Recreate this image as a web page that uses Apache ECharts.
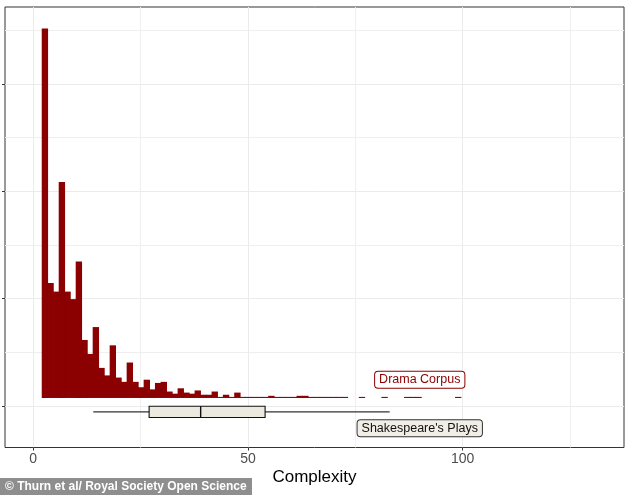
<!DOCTYPE html>
<html><head><meta charset="utf-8">
<script src="https://cdn.jsdelivr.net/npm/echarts@6/dist/echarts.min.js"></script>
<style>html,body{margin:0;padding:0;background:#fff}#c{width:634px;height:495px}</style>
</head><body><div id="c"></div>
<script>
// ---- data ----
const binStart = 2.0;
const binWidth = 1.318;
const dramaCounts = [
  344, 107, 99, 201, 99, 92, 127, 54, 41, 66,
  28, 21, 49, 19, 15, 33, 15, 10, 17, 8,
  14, 15, 6, 4, 9, 5, 4, 7, 3, 3,
  6, 1, 3, 1, 5, 1, 1, 1, 1, 1,
  2, 1, 1, 1, 1, 2, 2, 1, 1, 1,
  1, 1, 1, 1, 0, 0, 1, 0, 0, 0,
  1, 0, 0, 0, 1, 1, 1, 0, 0, 0,
  0, 0, 0, 1
];
// Shakespeare's plays boxplot: [lower whisker, Q1, median, Q3, upper whisker]
const shakespeareBox = [14.0, 27.0, 39.0, 54.0, 83.0];
const xTicks = [0, 50, 100];
const xMinorTicks = [25, 75, 125];
const yTicks = [0, 100, 200, 300];
const yMinorTicks = [50, 150, 250, 350];
const labelNames = ['Drama Corpus', "Shakespeare's Plays"];

// ---- layout constants ----
const histBase = 7.6;
const boxCenter = -5.3, boxHalf = 5.25;
const labelPos = [[90, 24.65], [90, -20.5]];
const FONT = '"Liberation Sans", Arial, sans-serif';

const chart = echarts.init(document.getElementById('c'), null, {renderer: 'canvas'});

const histData = dramaCounts.map((c, i) => [binStart + i * binWidth, binStart + (i + 1) * binWidth, c]);

const option = {
  animation: false,
  backgroundColor: '#fff',
  grid: {left: 5, right: 10, top: 7, bottom: 47.5, show: true, borderColor: '#333', borderWidth: 1, backgroundColor: '#fff'},
  xAxis: [{
    type: 'value', min: -6.55, max: 137.55, position: 'bottom',
    axisLine: {show: false, onZero: false},
    axisTick: {show: true, length: 3, customValues: xTicks, lineStyle: {color: '#333', width: 1}},
    axisLabel: {show: true, customValues: xTicks, color: '#4D4D4D', fontSize: 14, fontFamily: FONT, margin: 5},
    splitLine: {show: true, lineStyle: {color: '#EBEBEB', width: 1}},
    name: 'Complexity', nameLocation: 'middle', nameGap: 21, nameMoveOverlap: false,
    nameTextStyle: {color: '#000', fontSize: 17, fontFamily: FONT}
  }, {
    type: 'value', min: -6.55, max: 137.55, position: 'bottom',
    axisLine: {show: false, onZero: false},
    axisTick: {show: false, customValues: xMinorTicks},
    axisLabel: {show: false},
    splitLine: {show: true, lineStyle: {color: '#EFEFEF', width: 1}}
  }],
  yAxis: [{
    type: 'value', min: -38.5, max: 371.5, position: 'left',
    axisLine: {show: false, onZero: false},
    axisTick: {show: true, length: 3, customValues: yTicks, lineStyle: {color: '#333', width: 1}},
    axisLabel: {show: false},
    splitLine: {show: true, lineStyle: {color: '#EBEBEB', width: 1}}
  }, {
    type: 'value', min: -38.5, max: 371.5, position: 'left',
    axisLine: {show: false, onZero: false},
    axisTick: {show: false, customValues: yMinorTicks},
    axisLabel: {show: false},
    splitLine: {show: true, lineStyle: {color: '#EFEFEF', width: 1}}
  }],
  series: [{
    type: 'custom',
    xAxisIndex: 0, yAxisIndex: 0,
    data: histData,
    encode: {x: [0, 1], y: 2},
    renderItem: function (params, api) {
      const x0 = api.value(0), x1 = api.value(1), c = api.value(2);
      if (!c) return {type: 'group', children: []};
      const p0 = api.coord([x0, histBase]);
      const p1 = api.coord([x1, histBase + c]);
      return {
        type: 'rect',
        shape: {x: p0[0], y: p1[1], width: p1[0] - p0[0] + 0.7, height: p0[1] - p1[1]},
        style: {fill: '#8B0000'}
      };
    },
    z: 3
  }, {
    type: 'custom',
    xAxisIndex: 0, yAxisIndex: 0,
    data: [shakespeareBox],
    encode: {x: [0, 1, 2, 3, 4]},
    renderItem: function (params, api) {
      const lo = api.value(0), q1 = api.value(1), med = api.value(2), q3 = api.value(3), hi = api.value(4);
      const pLo = api.coord([lo, boxCenter]);
      const pHi = api.coord([hi, boxCenter]);
      const pQ1t = api.coord([q1, boxCenter + boxHalf]);
      const pQ3b = api.coord([q3, boxCenter - boxHalf]);
      const pMt = api.coord([med, boxCenter + boxHalf]);
      const pMb = api.coord([med, boxCenter - boxHalf]);
      const ls = {stroke: '#333', lineWidth: 1.1};
      return {
        type: 'group',
        children: [
          {type: 'line', shape: {x1: pLo[0], y1: pLo[1], x2: pHi[0], y2: pHi[1]}, style: ls},
          {type: 'rect', shape: {x: pQ1t[0], y: pQ1t[1], width: pQ3b[0] - pQ1t[0], height: pQ3b[1] - pQ1t[1]},
           style: {fill: '#ECE9DF', stroke: '#111', lineWidth: 1.1}},
          {type: 'line', shape: {x1: pMt[0], y1: pMt[1], x2: pMb[0], y2: pMb[1]}, style: {stroke: '#111', lineWidth: 1.4}}
        ]
      };
    },
    z: 4
  }, {
    type: 'custom',
    xAxisIndex: 0, yAxisIndex: 0,
    data: labelPos.map((p, i) => [p[0], p[1], i]),
    encode: {x: 0, y: 1},
    renderItem: function (params, api) {
      const i = api.value(2);
      const p = api.coord([api.value(0), api.value(1)]);
      const isDrama = i === 0;
      return {
        type: 'text',
        x: p[0], y: p[1],
        style: {
          text: labelNames[i],
          align: 'center', verticalAlign: 'middle',
          fill: isDrama ? '#8B0000' : '#111',
          font: '12.5px ' + FONT,
          lineHeight: 12,
          backgroundColor: isDrama ? '#fff' : '#F0EEE6',
          borderColor: isDrama ? '#8B0000' : '#333',
          borderWidth: 1, borderRadius: 3,
          padding: [2, 4, 2, 4]
        }
      };
    },
    z: 5
  }],
  graphic: [{
    type: 'group', left: 0, bottom: 0,
    children: [
      {type: 'rect', shape: {x: 0, y: 0, width: 252, height: 17}, style: {fill: '#8E8E8E'}},
      {type: 'text', x: 5, y: 8.5, style: {text: '\u00A9 Thurn et al/ Royal Society Open Science', fill: '#fff', font: 'bold 12px ' + FONT, verticalAlign: 'middle'}}
    ]
  }]
};
chart.setOption(option);
</script>
</body></html>
